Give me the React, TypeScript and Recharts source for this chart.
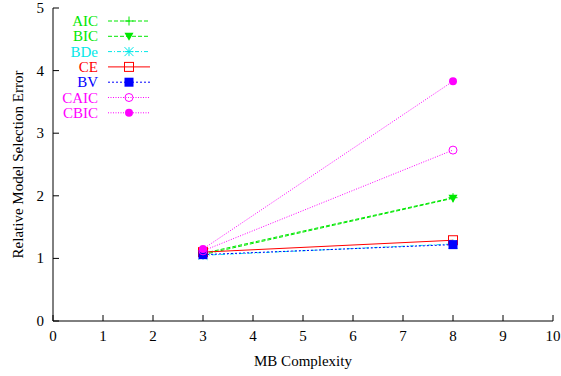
import React from 'react';
import { LineChart, Line, XAxis, YAxis } from 'recharts';

// MB complexity values where errors were measured
const complexity = [3, 8];

// relative model selection error for each criterion
const aic = [1.08, 1.97];
const bic = [1.06, 1.96];
const bde = [1.05, 1.23];
const ce = [1.1, 1.29];
const bv = [1.06, 1.22];
const caic = [1.12, 2.73];
const cbic = [1.15, 3.83];

const xTicks = [0, 1, 2, 3, 4, 5, 6, 7, 8, 9, 10];
const yTicks = [0, 1, 2, 3, 4, 5];

const data = complexity.map((x, i) => ({
  x,
  AIC: aic[i],
  BIC: bic[i],
  BDe: bde[i],
  CE: ce[i],
  BV: bv[i],
  CAIC: caic[i],
  CBIC: cbic[i],
}));

const FONT = '"Liberation Serif", "DejaVu Serif", serif';

type Kind = 'plus' | 'tri' | 'star' | 'sqOpen' | 'sqFill' | 'circOpen' | 'circFill';

const series: { key: string; color: string; dash?: string; kind: Kind }[] = [
  { key: 'AIC', color: '#00e800', dash: '4 2', kind: 'plus' },
  { key: 'BIC', color: '#00e800', dash: '4 2', kind: 'tri' },
  { key: 'BDe', color: '#00e8e8', dash: '4 2 1 2', kind: 'star' },
  { key: 'CE', color: '#ff0000', kind: 'sqOpen' },
  { key: 'BV', color: '#0000ff', dash: '2 2', kind: 'sqFill' },
  { key: 'CAIC', color: '#ff00ff', dash: '1 1.5', kind: 'circOpen' },
  { key: 'CBIC', color: '#ff00ff', dash: '1 1.5', kind: 'circFill' },
];

const Marker = ({ cx, cy, kind, color }: { cx: number; cy: number; kind: Kind; color: string }) => {
  const s = 4.5;
  switch (kind) {
    case 'plus':
      return (
        <g stroke={color} strokeWidth={1}>
          <line x1={cx - s} y1={cy} x2={cx + s} y2={cy} />
          <line x1={cx} y1={cy - s} x2={cx} y2={cy + s} />
        </g>
      );
    case 'tri':
      return <polygon points={`${cx - s},${cy - s + 1} ${cx + s},${cy - s + 1} ${cx},${cy + s}`} fill={color} />;
    case 'star':
      return (
        <g stroke={color} strokeWidth={1}>
          <line x1={cx - s} y1={cy} x2={cx + s} y2={cy} />
          <line x1={cx} y1={cy - s} x2={cx} y2={cy + s} />
          <line x1={cx - s} y1={cy - s} x2={cx + s} y2={cy + s} />
          <line x1={cx - s} y1={cy + s} x2={cx + s} y2={cy - s} />
        </g>
      );
    case 'sqOpen':
      return <rect x={cx - s} y={cy - s} width={2 * s} height={2 * s} fill="none" stroke={color} />;
    case 'sqFill':
      return <rect x={cx - s} y={cy - s} width={2 * s} height={2 * s} fill={color} />;
    case 'circOpen':
      return <circle cx={cx} cy={cy} r={4} fill="none" stroke={color} />;
    default:
      return <circle cx={cx} cy={cy} r={4} fill={color} />;
  }
};

const BottomTick = ({ x, y, payload }: any) => (
  <g>
    <line x1={x} y1={y} x2={x} y2={y - 6} stroke="#000" />
    <text x={x} y={y + 20} textAnchor="middle" fontFamily={FONT} fontSize={15} fill="#000">
      {payload.value}
    </text>
  </g>
);

const LeftTick = ({ x, y, payload }: any) => (
  <g>
    <line x1={x} y1={y} x2={x + 6} y2={y} stroke="#000" />
    <text x={x - 9} y={y + 5} textAnchor="end" fontFamily={FONT} fontSize={15} fill="#000">
      {payload.value}
    </text>
  </g>
);

const TopTick = ({ x, y }: any) => <line x1={x} y1={y} x2={x} y2={y + 6} stroke="#000" />;
const RightTick = ({ x, y }: any) => <line x1={x} y1={y} x2={x - 6} y2={y} stroke="#000" />;

const Legend = () => (
  <svg width={170} height={130} style={{ position: 'absolute', left: 0, top: 0 }}>
    {series.map((s, i) => {
      const y = 21 + i * 15.3;
      return (
        <g key={s.key}>
          <text x={98} y={y + 5} textAnchor="end" fontFamily={FONT} fontSize={15} fill={s.color}>
            {s.key}
          </text>
          <line x1={108} y1={y} x2={150} y2={y} stroke={s.color} strokeDasharray={s.dash} />
          <Marker cx={129} cy={y} kind={s.kind} color={s.color} />
        </g>
      );
    })}
  </svg>
);

export default function App() {
  return (
    <div style={{ position: 'absolute', left: 0, top: 0, width: 561, height: 376, background: '#fff' }}>
      <LineChart width={561} height={376} data={data} margin={{ top: 8, right: 8, bottom: 0, left: 0 }}>
        <XAxis
          dataKey="x"
          type="number"
          domain={[0, 10]}
          ticks={xTicks}
          interval={0}
          tickSize={0}
          tickMargin={0}
          tickLine={false}
          height={55}
          stroke="#000"
          tick={<BottomTick />}
          label={{ value: 'MB Complexity', position: 'insideBottom', offset: 10, fill: '#000', fontFamily: FONT, fontSize: 15 }}
        />
        <XAxis
          xAxisId="top"
          dataKey="x"
          type="number"
          orientation="top"
          domain={[0, 10]}
          ticks={xTicks}
          interval={0}
          tickSize={0}
          tickMargin={0}
          tickLine={false}
          height={0}
          stroke="#000"
          tick={<TopTick />}
        />
        <YAxis
          type="number"
          domain={[0, 5]}
          ticks={yTicks}
          interval={0}
          tickSize={0}
          tickMargin={0}
          tickLine={false}
          width={53}
          stroke="#000"
          tick={<LeftTick />}
          label={{
            value: 'Relative Model Selection Error',
            angle: -90,
            position: 'insideLeft',
            offset: 0,
            dx: 18,
            fill: '#000',
            fontFamily: FONT,
            fontSize: 15,
            style: { textAnchor: 'middle' },
          }}
        />
        <YAxis
          yAxisId="right"
          orientation="right"
          type="number"
          domain={[0, 5]}
          ticks={yTicks}
          interval={0}
          tickSize={0}
          tickMargin={0}
          tickLine={false}
          width={0}
          stroke="#000"
          tick={<RightTick />}
        />
        {series.map((s) => (
          <Line
            key={s.key}
            dataKey={s.key}
            type="linear"
            stroke={s.color}
            strokeWidth={1}
            strokeDasharray={s.dash}
            isAnimationActive={false}
            dot={(p: any) => <Marker key={`${s.key}-${p.index}`} cx={p.cx} cy={p.cy} kind={s.kind} color={s.color} />}
            activeDot={false}
          />
        ))}
      </LineChart>
      <Legend />
    </div>
  );
}
